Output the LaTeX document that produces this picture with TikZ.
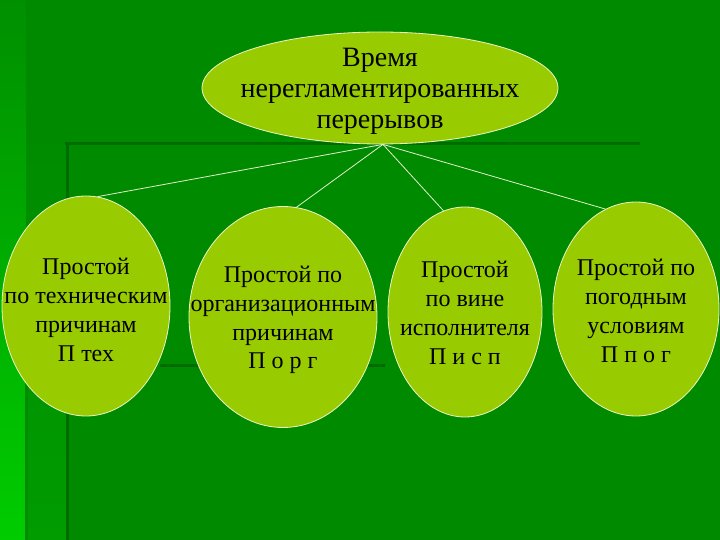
\documentclass[tikz,border=0pt]{standalone}
\usepackage{fontspec}
\setmainfont{Liberation Serif}
\usetikzlibrary{shapes.geometric}
\definecolor{bgmain}{RGB}{0,138,0}
\definecolor{bgpanel}{RGB}{0,156,0}
\definecolor{bgbright}{RGB}{0,204,0}
\definecolor{stripecol}{RGB}{0,108,0}
\definecolor{ovalfill}{RGB}{153,204,0}
\definecolor{ovaledge}{RGB}{235,245,200}
\definecolor{linkcol}{RGB}{225,240,205}

\begin{document}
\begin{tikzpicture}[x=1pt,y=-1pt]
\tikzstyle{every node}=[font=\fontsize{24}{28.8}\selectfont]
\tikzstyle{oval}=[ellipse,draw=ovaledge,fill=ovalfill,line width=0.8pt,inner sep=0pt]
\tikzstyle{lbl}=[align=center,inner sep=0pt]
\tikzstyle{link}=[draw=linkcol,line width=0.8pt]
\tikzstyle{stripe}=[draw=stripecol,line width=3pt]
\useasboundingbox (0,0) rectangle (720,540);
% background
\fill[bgmain] (0,0) rectangle (720,540);
\shade[top color=bgmain!92!bgbright,bottom color=bgbright] (0,0) rectangle (26,540);
\shade[top color=bgmain!90!bgpanel,bottom color=bgpanel] (27,145) rectangle (67,540);
\draw[stripe,draw=bgmain] (26.5,360) -- (26.5,540);
\draw[stripe] (67,144) -- (67,540);
\draw[stripe] (65,144) -- (640,144);
\draw[stripe] (160,365) -- (385,365);
% ovals
\node[oval,minimum width=356pt,minimum height=112pt] (top) at (380,88) {};
\node[oval,minimum width=168pt,minimum height=220pt] (tech) at (86,306) {};
\node[oval,minimum width=188pt,minimum height=221pt] (org) at (283,317) {};
\node[oval,minimum width=154pt,minimum height=210pt] (isp) at (465,312) {};
\node[oval,minimum width=166pt,minimum height=214pt] (pog) at (636,309) {};
% texts
\node[lbl,font=\fontsize{28}{31}\selectfont,yshift=-3pt] (toptxt) at (top) {Время\\нерегламентированных\\перерывов};
\node[lbl,yshift=-4pt] (techtxt) at (tech) {Простой\\по техническим\\причинам\\П тех};
\node[lbl,yshift=-3pt] (orgtxt) at (org) {Простой по\\организационным\\причинам\\П о р г};
\node[lbl,yshift=-1pt] (isptxt) at (isp) {Простой\\по вине\\исполнителя\\П и с п};
\node[lbl,yshift=-2pt] (pogtxt) at (pog) {Простой по\\погодным\\условиям\\П п о г};
% links
\draw[link] (top.-87) -- (tech.84);
\draw[link] (top.-87) -- (org.83);
\draw[link] (top.-87) -- (isp.102);
\draw[link] (top.-87) -- (pog.107);
\end{tikzpicture}
\end{document}
